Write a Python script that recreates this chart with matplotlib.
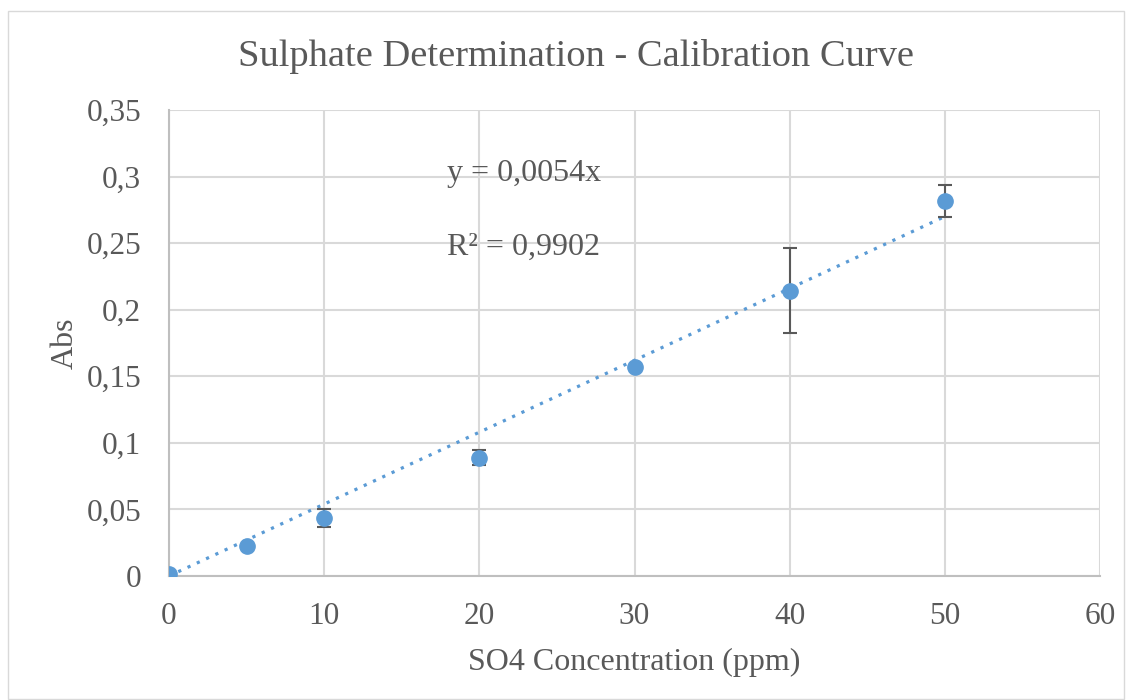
import matplotlib
matplotlib.use("Agg")
import matplotlib.pyplot as plt
from matplotlib.patches import Rectangle
import numpy as np

conc = [0, 5, 10, 20, 30, 40, 50]
absorb = [0.0015, 0.0225, 0.0434, 0.0887, 0.1573, 0.2144, 0.2817]
err = [0.0, 0.0, 0.0069, 0.0056, 0.0, 0.032, 0.0122]
slope = 0.0054
r2_text = "R² = 0,9902"
eq_text = "y = 0,0054x"
x_ticks = [0, 10, 20, 30, 40, 50, 60]
y_ticks = [0, 0.05, 0.1, 0.15, 0.2, 0.25, 0.3, 0.35]
y_tick_labels = ["0", "0,05", "0,1", "0,15", "0,2", "0,25", "0,3", "0,35"]

plt.rcParams['font.family'] = ['Liberation Serif', 'DejaVu Serif']
txt = '#595959'
blue = '#5B9BD5'

fig = plt.figure(figsize=(11.33, 7), dpi=100)
fig.patches.append(Rectangle((8/1133, 1 - 699/700), 1116/1133, 688/700, transform=fig.transFigure,
                             fill=False, edgecolor='#D9D9D9', linewidth=1))
ax = fig.add_axes([169/1133, 124/700, 931/1133, 466/700])

xs = np.array([0, 50])
ax.plot(xs, slope * xs, linestyle=(0, (1, 2.2)), color=blue, linewidth=2.3, zorder=3)
ax.errorbar(conc, absorb, yerr=err, fmt='o', color=blue, markersize=11, ecolor='#595959',
            elinewidth=1.5, capsize=5, capthick=1.5, zorder=4)

ax.set_xlim(0, 60)
ax.set_ylim(0, 0.35)
ax.set_xticks(x_ticks)
ax.set_xticklabels([str(v) for v in x_ticks])
ax.set_yticks(y_ticks)
ax.set_yticklabels(y_tick_labels)
ax.grid(True, color='#D9D9D9', linewidth=1.5)
ax.set_axisbelow(True)
for s in ['top', 'right']:
    ax.spines[s].set_visible(False)
for s in ['left', 'bottom']:
    ax.spines[s].set_color('#BFBFBF')
    ax.spines[s].set_linewidth(1.5)
ax.tick_params(length=0, labelsize=22.5, colors=txt)
ax.tick_params(axis='y', pad=20)
ax.tick_params(axis='x', pad=19)
ax.set_xlabel("SO4 Concentration (ppm)", fontsize=23, color=txt, labelpad=12)
ax.set_ylabel("Abs", fontsize=23, color=txt, labelpad=5)
fig.text(576/1133, 1 - 57/700, "Sulphate Determination - Calibration Curve", ha='center', va='center',
         fontsize=27.7, color=txt)
ax.text(447/1133, 1 - 173/700, eq_text, transform=fig.transFigure, ha='left', va='center', fontsize=23, color=txt)
ax.text(447/1133, 1 - 247/700, r2_text, transform=fig.transFigure, ha='left', va='center', fontsize=23, color=txt)

fig.savefig("out.png", dpi=100)
